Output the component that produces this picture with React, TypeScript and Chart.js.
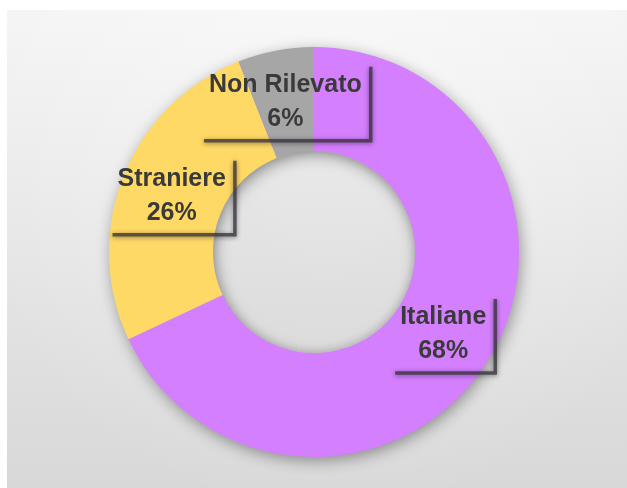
import React, { useEffect, useRef } from "react";
import { Chart, registerables } from "chart.js";

Chart.register(...registerables);

const categories = ["Italiane", "Straniere", "Non Rilevato"];
const values = [68, 26, 6];
const colors = ["#D47FFE", "#FFD966", "#A6A6A6"];

const FONT = "bold 25px 'Liberation Sans', Arial, sans-serif";

const bgPlugin = {
  id: "bgPanel",
  beforeDraw(chart: any) {
    const ctx = chart.ctx;
    const W = chart.width;
    const H = chart.height;
    ctx.save();
    ctx.fillStyle = "#ffffff";
    ctx.fillRect(0, 0, W, H);
    const g = ctx.createLinearGradient(0, 10, 0, H);
    g.addColorStop(0, "#f5f5f5");
    g.addColorStop(0.5, "#e6e6e6");
    g.addColorStop(1, "#d8d8d8");
    ctx.fillStyle = g;
    ctx.fillRect(7, 10, W - 7, H - 10);
    const r = ctx.createRadialGradient(330, 110, 10, 330, 160, 360);
    r.addColorStop(0, "rgba(255,255,255,0.4)");
    r.addColorStop(1, "rgba(255,255,255,0)");
    ctx.fillStyle = r;
    ctx.fillRect(7, 10, W - 7, H - 10);
    ctx.restore();
  },
  beforeDatasetsDraw(chart: any) {
    const meta = chart.getDatasetMeta(0);
    const a = meta.data[0];
    if (!a) return;
    const ctx = chart.ctx;
    ctx.save();
    ctx.shadowColor = "rgba(0,0,0,0.4)";
    ctx.shadowBlur = 16;
    ctx.shadowOffsetX = 2;
    ctx.shadowOffsetY = 4;
    ctx.beginPath();
    ctx.arc(a.x, a.y, a.outerRadius - 1, 0, Math.PI * 2);
    ctx.arc(a.x, a.y, a.innerRadius + 1, 0, Math.PI * 2, true);
    ctx.fillStyle = colors[0];
    ctx.fill("evenodd");
    ctx.restore();
  },
  afterDatasetsDraw(chart: any) {
    const meta = chart.getDatasetMeta(0);
    const ctx = chart.ctx;
    const a0 = meta.data[0];
    // inner hole shading
    ctx.save();
    ctx.beginPath();
    ctx.arc(a0.x, a0.y, a0.innerRadius, 0, Math.PI * 2);
    ctx.clip();
    ctx.fillStyle = "rgba(0,0,0,0.04)";
    ctx.fill();
    ctx.shadowColor = "rgba(0,0,0,0.25)";
    ctx.shadowBlur = 10;
    ctx.beginPath();
    ctx.arc(a0.x, a0.y, a0.innerRadius + 8, 0, Math.PI * 2);
    ctx.lineWidth = 14;
    ctx.strokeStyle = "rgba(0,0,0,0.5)";
    ctx.stroke();
    ctx.restore();

    const total = values.reduce((s, v) => s + v, 0);
    ctx.save();
    ctx.font = FONT;
    meta.data.forEach((arc: any, i: number) => {
      const p = arc.tooltipPosition(false);
      const l1 = categories[i];
      const l2 = Math.round((values[i] / total) * 100) + "%";
      const w = Math.max(ctx.measureText(l1).width, ctx.measureText(l2).width);
      const right = p.x + w / 2 + 9;
      const left = p.x - w / 2 - 5;
      const top = p.y - 35;
      const bottom = p.y + 39;
      ctx.save();
      ctx.shadowColor = "rgba(0,0,0,0.6)";
      ctx.shadowBlur = 5;
      ctx.shadowOffsetY = 1;
      ctx.strokeStyle = "rgba(55,50,60,0.75)";
      ctx.lineWidth = 3.5;
      ctx.beginPath();
      ctx.moveTo(right, top);
      ctx.lineTo(right, bottom);
      ctx.lineTo(left, bottom);
      ctx.stroke();
      ctx.restore();
      ctx.fillStyle = "#3a3a3a";
      ctx.textAlign = "center";
      ctx.textBaseline = "middle";
      ctx.fillText(l1, p.x, p.y - 17);
      ctx.fillText(l2, p.x, p.y + 17);
    });
    ctx.restore();
  },
};

export default function App() {
  const ref = useRef<HTMLCanvasElement>(null);
  useEffect(() => {
    document.body.style.margin = "0";
    const chart = new Chart(ref.current!, {
      type: "doughnut",
      data: {
        labels: categories,
        datasets: [
          {
            data: values,
            backgroundColor: colors,
            borderWidth: 0,
          },
        ],
      },
      options: {
        responsive: false,
        animation: false,
        cutout: "49.3%",
        layout: { padding: { left: 109, right: 108, top: 47, bottom: 31 } },
        plugins: {
          legend: { display: false },
          tooltip: { enabled: false },
        },
      },
      plugins: [bgPlugin],
    } as any);
    return () => chart.destroy();
  }, []);
  return <canvas ref={ref} width={627} height={488} style={{ display: "block" }} />;
}
